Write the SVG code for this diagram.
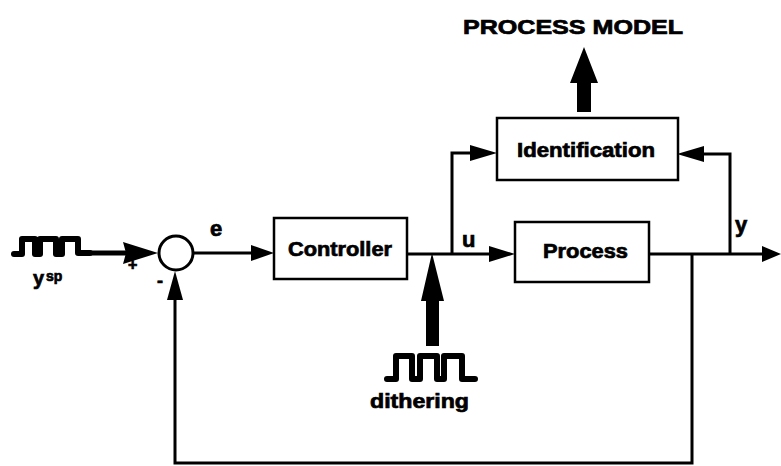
<svg xmlns="http://www.w3.org/2000/svg" width="781" height="466" viewBox="0 0 781 466">
  <style>
    .box { fill: #fff; stroke: #000; stroke-width: 2.5; }
    .wire { fill: none; stroke: #000; stroke-width: 3; stroke-linejoin: miter; }
    .wave { fill: none; stroke: #000; stroke-width: 6; stroke-linejoin: round; stroke-linecap: round; }
    .lbl { font-family: "Liberation Sans", Arial, sans-serif; font-weight: bold; fill: #000; stroke: #000; stroke-width: 0.7; }
    .head { fill: #000; stroke: none; }
  </style>
  <rect width="781" height="466" fill="#fff"/>

  <!-- output label -->
  <g id="process-model">
    <text class="lbl" x="463" y="34" font-size="20" textLength="220" lengthAdjust="spacingAndGlyphs">PROCESS MODEL</text>
    <polygon class="head" points="584,47 598,83 591,83 591,112 577,112 577,83 570,83"/>
  </g>

  <!-- blocks -->
  <g id="identification">
    <rect class="box" x="497" y="118" width="181" height="62"/>
    <text class="lbl" x="517" y="157" font-size="20" textLength="138" lengthAdjust="spacingAndGlyphs">Identification</text>
  </g>
  <g id="controller">
    <rect class="box" x="274" y="218" width="133" height="61"/>
    <text class="lbl" x="288" y="256" font-size="20" textLength="104" lengthAdjust="spacingAndGlyphs">Controller</text>
  </g>
  <g id="process">
    <rect class="box" x="515" y="222" width="134" height="60"/>
    <text class="lbl" x="543" y="258" font-size="20" textLength="85" lengthAdjust="spacingAndGlyphs">Process</text>
  </g>
  <g id="sum">
    <circle cx="176" cy="253" r="17" fill="#fff" stroke="#000" stroke-width="3"/>
    <text class="lbl" x="128" y="270" font-size="16">+</text>
    <text class="lbl" x="157" y="287" font-size="18">-</text>
  </g>

  <!-- setpoint source -->
  <g id="setpoint">
    <polyline class="wave" points="14,254 22,254 22,239 35,239 35,254 40,254 40,239 56,239 56,254 62,254 62,239 78,239 78,253 90,253"/>
    <text class="lbl" x="33" y="285" font-size="20">y</text>
    <text class="lbl" x="46" y="281" font-size="14">sp</text>
  </g>

  <!-- dithering source -->
  <g id="dithering">
    <polyline class="wave" points="387,379 396,379 396,356 412,356 412,379 420,379 420,356 437,356 437,379 444,379 444,356 462,356 462,379 475,379"/>
    <text class="lbl" x="370" y="408" font-size="20" textLength="99" lengthAdjust="spacingAndGlyphs">dithering</text>
    <polygon class="head" points="432,253 444,301 439,301 439,346 426,346 426,301 421,301"/>
  </g>

  <!-- connectors -->
  <g id="connectors">
    <!-- setpoint into summing junction -->
    <line x1="88" y1="253" x2="126" y2="253" stroke="#000" stroke-width="5"/>
    <polygon class="head" points="158,253 123,242 126,253 123,264"/>
    <!-- e: error to controller -->
    <line class="wire" x1="193" y1="253" x2="255" y2="253"/>
    <polygon class="head" points="274,253 251,245 251,261"/>
    <text class="lbl" x="210" y="236" font-size="22">e</text>
    <!-- u: controller to process -->
    <line class="wire" x1="407" y1="254" x2="495" y2="254"/>
    <polygon class="head" points="515,254 489,246 489,262"/>
    <text class="lbl" x="462" y="247" font-size="22">u</text>
    <!-- u branch to identification -->
    <polyline class="wire" points="452,254 452,153 475,153"/>
    <polygon class="head" points="497,153 470,145 470,161"/>
    <!-- y: process output -->
    <line class="wire" x1="649" y1="254" x2="765" y2="254"/>
    <polygon class="head" points="781,254 762,246 762,262"/>
    <text class="lbl" x="735" y="232" font-size="22">y</text>
    <!-- y branch to identification -->
    <polyline class="wire" points="730,254 730,154 700,154"/>
    <polygon class="head" points="677,154 704,146 704,162"/>
    <!-- feedback path -->
    <polyline class="wire" points="692,254 692,463 175,463 175,296"/>
    <polygon class="head" points="175,271 167,300 183,300"/>
  </g>
</svg>
